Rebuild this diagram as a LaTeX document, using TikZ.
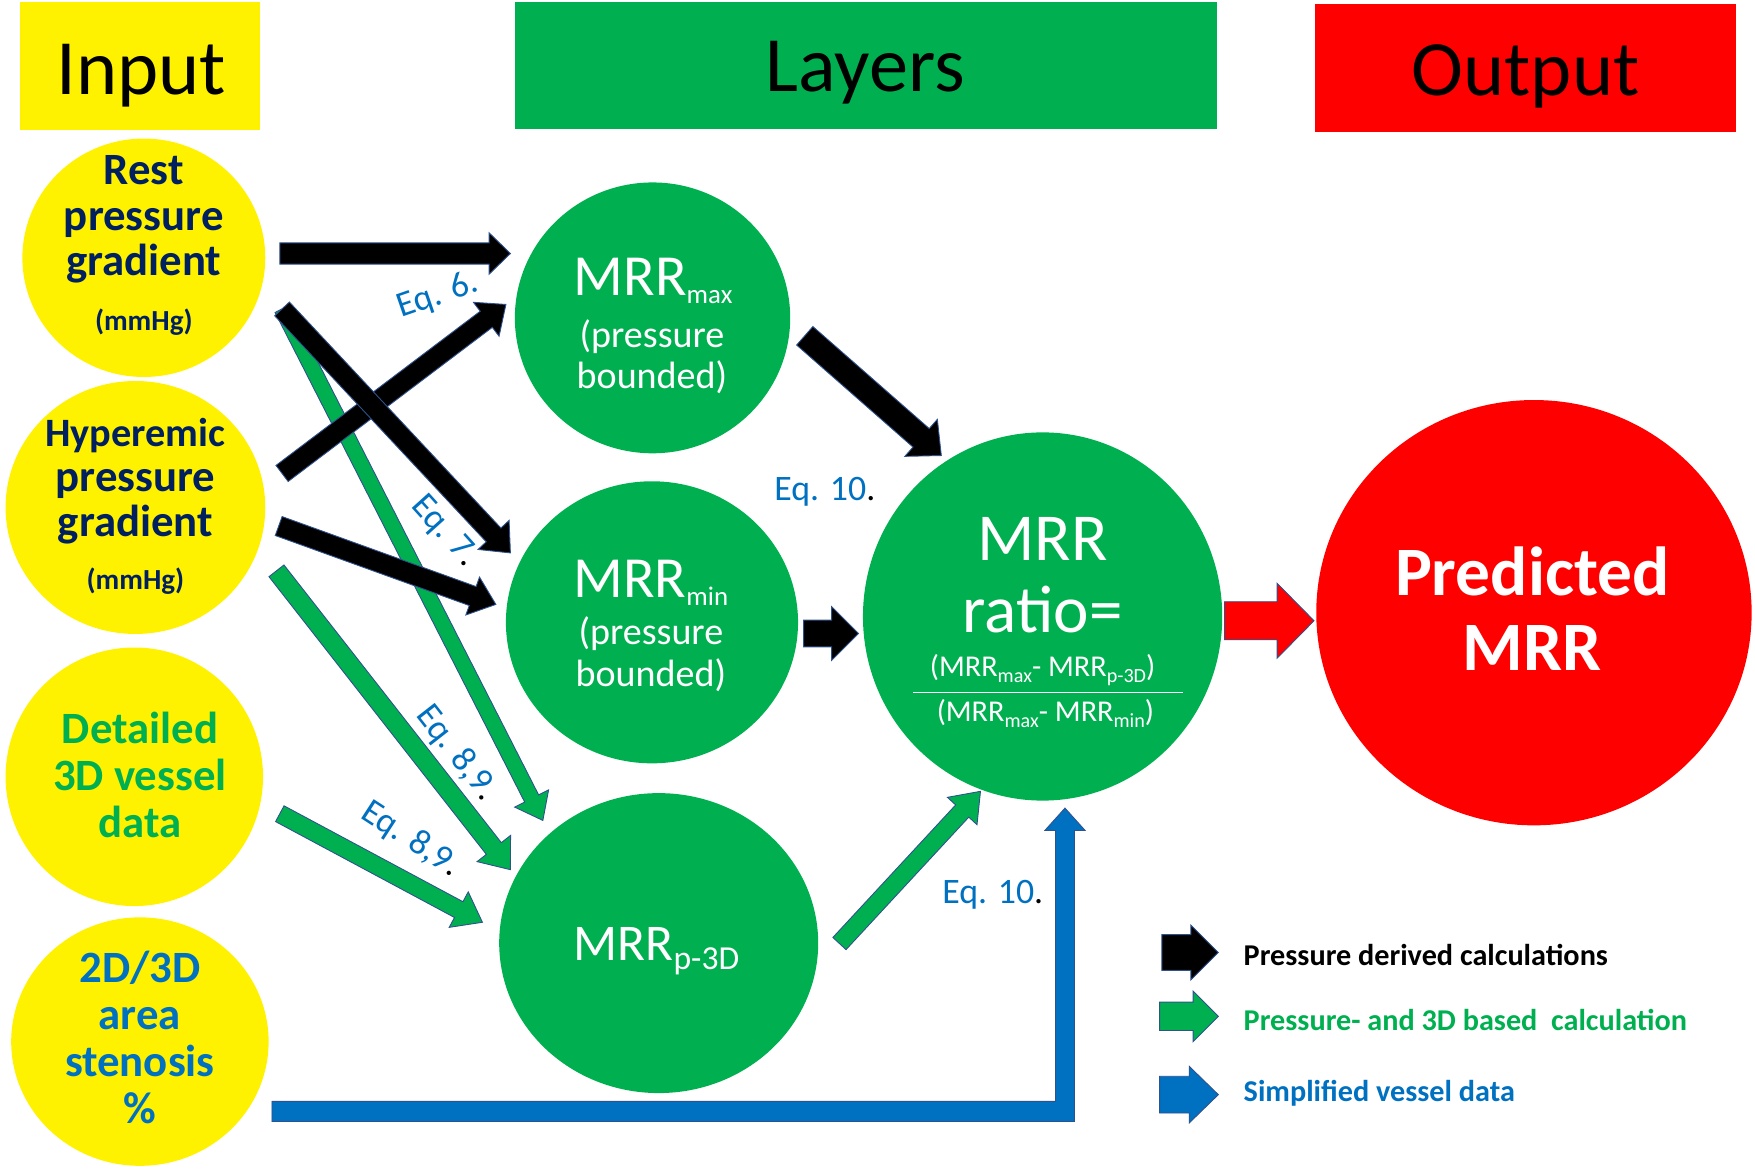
\documentclass[tikz,border=0pt]{standalone}
\usepackage{fontspec}
\setmainfont{Carlito}
\usetikzlibrary{calc}
\usetikzlibrary{shapes.geometric}

\definecolor{mrrgreen}{HTML}{00B050}
\definecolor{mrrblue}{HTML}{0070C0}
\definecolor{mrrnavy}{HTML}{002060}
\definecolor{mrredge}{HTML}{2F528F}

\newcommand{\mrrsub}[3]{{\fontsize{#1}{#1}\selectfont\raisebox{-#2}{#3}}}
% block arrow: style, start, tip, half shaft, half head, head length
\newcommand{\blockarrow}[6]{%
\coordinate (bhead) at ($(#3)!#6!(#2)$);
\draw[#1] ($(#2)!#4!90:(#3)$) -- ($(bhead)!#4!-90:(#2)$) -- ($(bhead)!#5!-90:(#2)$) -- (#3) -- ($(bhead)!#5!90:(#2)$) -- ($(bhead)!#4!90:(#2)$) -- ($(#2)!#4!-90:(#3)$) -- cycle;}

\tikzset{
incirc/.style={ellipse,fill=yellow,inner sep=0pt},
laycirc/.style={ellipse,fill=mrrgreen,inner sep=0pt},
hdrtext/.style={anchor=base,inner sep=0pt,font=\fontsize{70}{84}\selectfont},
intext/.style={align=center,inner sep=0pt,font=\fontsize{40}{41}\selectfont\bfseries},
unittext/.style={anchor=base,inner sep=0pt,font=\fontsize{26}{30}\selectfont\bfseries,text=mrrnavy},
laytext/.style={align=center,inner sep=0pt,text=white},
eqlab/.style={inner sep=0pt,text=mrrblue,font=\fontsize{32}{32}\selectfont},
legtext/.style={anchor=west,inner sep=0pt,font=\fontsize{27}{30}\selectfont\bfseries},
blkarr/.style={fill=black,draw=mrredge,line width=0.8pt},
grnarr/.style={fill=mrrgreen,draw=mrredge,line width=0.8pt},
redarr/.style={fill=red,draw=mrredge,line width=0.8pt},
bluarr/.style={fill=mrrblue,draw=mrredge,line width=0.8pt}
}

\begin{document}
\begin{tikzpicture}[x=1pt,y=-1pt]
\useasboundingbox (0,0) rectangle (1568,1046.2);
% headers
\fill[yellow] (18,2) rectangle (232,116);
\node[hdrtext] (inputT) at (126,84) {Input};
\fill[mrrgreen] (460,2) rectangle (1087,115);
\node[hdrtext] (layersT) at (773,82) {Layers};
\fill[red] (1175,3.5) rectangle (1551,118);
\node[hdrtext] (outputT) at (1363,85) {Output};

% input circles
\node[incirc,minimum width=217pt,minimum height=213pt] (rest) at (128.5,230.3) {};
\node[incirc,minimum width=232pt,minimum height=226pt] (hyp) at (121,453.4) {};
\node[incirc,minimum width=230pt,minimum height=231pt] (det) at (120,694) {};
\node[incirc,minimum width=230pt,minimum height=222pt] (sten) at (125,930.6) {};
\node[intext,text=mrrnavy] (restT) at (128.5,196) {Rest\\pressure\\gradient};
\node[unittext] (restU) at (128.5,295) {(mmHg)};
\node[intext,text=mrrnavy,font=\fontsize{40}{40}\selectfont\bfseries] (hypT) at (121,430) {{\fontsize{36}{40}\selectfont Hyperemic}\\pressure\\gradient};
\node[unittext] (hypU) at (121,527) {(mmHg)};
\node[intext,text=mrrgreen,font=\fontsize{40}{42}\selectfont\bfseries] (detT) at (125,692) {Detailed\\3D vessel\\data};
\node[intext,text=mrrblue,font=\fontsize{40}{42}\selectfont\bfseries] (stenT) at (125,927) {2D/3D\\area\\stenosis\\\%};

% layer circles
\node[laycirc,minimum width=246pt,minimum height=242pt] (mmax) at (583,284) {};
\node[laycirc,minimum width=261pt,minimum height=252pt] (mmin) at (582.5,556) {};
\node[laycirc,minimum width=285pt,minimum height=268pt] (mp3d) at (588.5,842.6) {};
\node[laycirc,minimum width=321pt,minimum height=329pt] (ratio) at (931.5,550.8) {};
\node[ellipse,fill=red,inner sep=0pt,minimum width=389pt,minimum height=380pt] (pred) at (1370.5,547.4) {};

\node[laytext,anchor=base,font=\fontsize{52}{52}\selectfont] (mmaxT) at (583.5,264) {MRR\mrrsub{24}{7pt}{max}};
\node[laytext,font=\fontsize{34}{37}\selectfont] (mmaxB) at (582.5,318.5) {(pressure\\bounded)};
\node[laytext,anchor=base,font=\fontsize{52}{52}\selectfont] (mminT) at (581.5,534) {MRR\mrrsub{24}{7pt}{min}};
\node[laytext,font=\fontsize{34}{37}\selectfont] (mminB) at (581.5,584.6) {(pressure\\bounded)};
\node[laytext,anchor=base,font=\fontsize{46}{46}\selectfont] (mp3dT) at (586.5,858) {MRR\mrrsub{30}{8pt}{p-3D}};
\node[laytext,font=\fontsize{60}{64}\selectfont] (ratioT) at (931.5,513.7) {MRR\\ratio=};
\node[laytext,anchor=base,font=\fontsize{27}{27}\selectfont] (ratioN) at (931.5,604.5) {(MRR\mrrsub{18}{5pt}{max}- MRR\mrrsub{18}{5pt}{p-3D})};
\draw[white,line width=1.5pt] (816,618.8) -- (1057,618.8);
\node[laytext,anchor=base,font=\fontsize{27}{27}\selectfont] (ratioD) at (934,644.7) {(MRR\mrrsub{18}{5pt}{max}- MRR\mrrsub{18}{5pt}{min})};
\node[laytext,font=\fontsize{62}{67}\selectfont\bfseries] (predT) at (1369,543.8) {Predicted\\MRR};

% arrow ends
\coordinate (a1s) at (250,226.5);   \coordinate (a1e) at (456,226.5);
\coordinate (a2s) at (252,423);     \coordinate (a2e) at (452,272);
\coordinate (a3s) at (252,276);     \coordinate (a3e) at (456,494);
\coordinate (a4s) at (249,470);     \coordinate (a4e) at (443,540);
\coordinate (a5s) at (719,300);     \coordinate (a5e) at (841,407);
\coordinate (a6s) at (718,566);     \coordinate (a6e) at (767,566);
\coordinate (a7s) at (252,276);     \coordinate (a7e) at (485,733);
\coordinate (a8s) at (247,510);     \coordinate (a8e) at (456,777);
\coordinate (a9s) at (250,727);     \coordinate (a9e) at (431,824);
\coordinate (a11s) at (750,843);    \coordinate (a11e) at (876,707);
\coordinate (a10s) at (1094,554.6); \coordinate (a10e) at (1174,554.6);

% green arrows
\blockarrow{grnarr}{a7s}{a7e}{7pt}{17pt}{22pt}
\blockarrow{grnarr}{a8s}{a8e}{8.5pt}{19pt}{24pt}
\blockarrow{grnarr}{a9s}{a9e}{8pt}{18pt}{24pt}
\blockarrow{grnarr}{a11s}{a11e}{8pt}{18pt}{24pt}
% black arrows
\blockarrow{blkarr}{a1s}{a1e}{9.5pt}{18.5pt}{19pt}
\blockarrow{blkarr}{a2s}{a2e}{9pt}{19pt}{22pt}
\blockarrow{blkarr}{a3s}{a3e}{9pt}{19pt}{22pt}
\blockarrow{blkarr}{a4s}{a4e}{9pt}{18pt}{22pt}
\blockarrow{blkarr}{a5s}{a5e}{11pt}{22pt}{24pt}
\blockarrow{blkarr}{a6s}{a6e}{12pt}{24pt}{24pt}
% output arrow
\blockarrow{redarr}{a10s}{a10e}{17pt}{33.5pt}{33pt}

% simplified vessel data
\coordinate (stenout) at (243,993);
\coordinate (bcorner) at (951.5,993);
\coordinate (ratioin) at (951.5,722);
\draw[bluarr] ($(stenout)+(0,-9)$) -- ($(bcorner)+(-8.5,-9)$) -- ($(ratioin)+(-8.5,20)$) -- ($(ratioin)+(-18,20)$) -- (ratioin) -- ($(ratioin)+(18,20)$) -- ($(ratioin)+(8.5,20)$) -- ($(bcorner)+(8.5,9)$) -- ($(stenout)+(0,9)$) -- cycle;

% equation labels
\node[eqlab,rotate=19] (eq6) at (391,264) {Eq. 6.};
\node[eqlab,rotate=-48] (eq7) at (397,475) {Eq. 7\textcolor{black}{.}};
\node[eqlab,rotate=-52] (eq89a) at (408,673) {Eq. 8,9\textcolor{black}{.}};
\node[eqlab,rotate=-33] (eq89b) at (367,750) {Eq. 8,9\textcolor{black}{.}};
\node[eqlab] (eq10a) at (737,439) {Eq. 10\textcolor{black}{.}};
\node[eqlab] (eq10b) at (887,799) {Eq. 10\textcolor{black}{.}};

% legend
\coordinate (lg1s) at (1038,851);   \coordinate (lg1e) at (1088.5,851);
\coordinate (lg2s) at (1036,908);   \coordinate (lg2e) at (1088.5,908);
\coordinate (lg3s) at (1036,978);   \coordinate (lg3e) at (1088.5,978);
\blockarrow{blkarr}{lg1s}{lg1e}{16pt}{24.5pt}{24.5pt}
\blockarrow{grnarr}{lg2s}{lg2e}{12.7pt}{22.5pt}{22.5pt}
\blockarrow{bluarr}{lg3s}{lg3e}{16.4pt}{25.3pt}{26pt}
\node[legtext,text=black] (leg1) at (1111,853) {Pressure derived calculations};
\node[legtext,text=mrrgreen] (leg2) at (1111,911) {Pressure- and 3D based\ \ calculation};
\node[legtext,text=mrrblue] (leg3) at (1111,977) {Simplified vessel data};

\end{tikzpicture}
\end{document}
